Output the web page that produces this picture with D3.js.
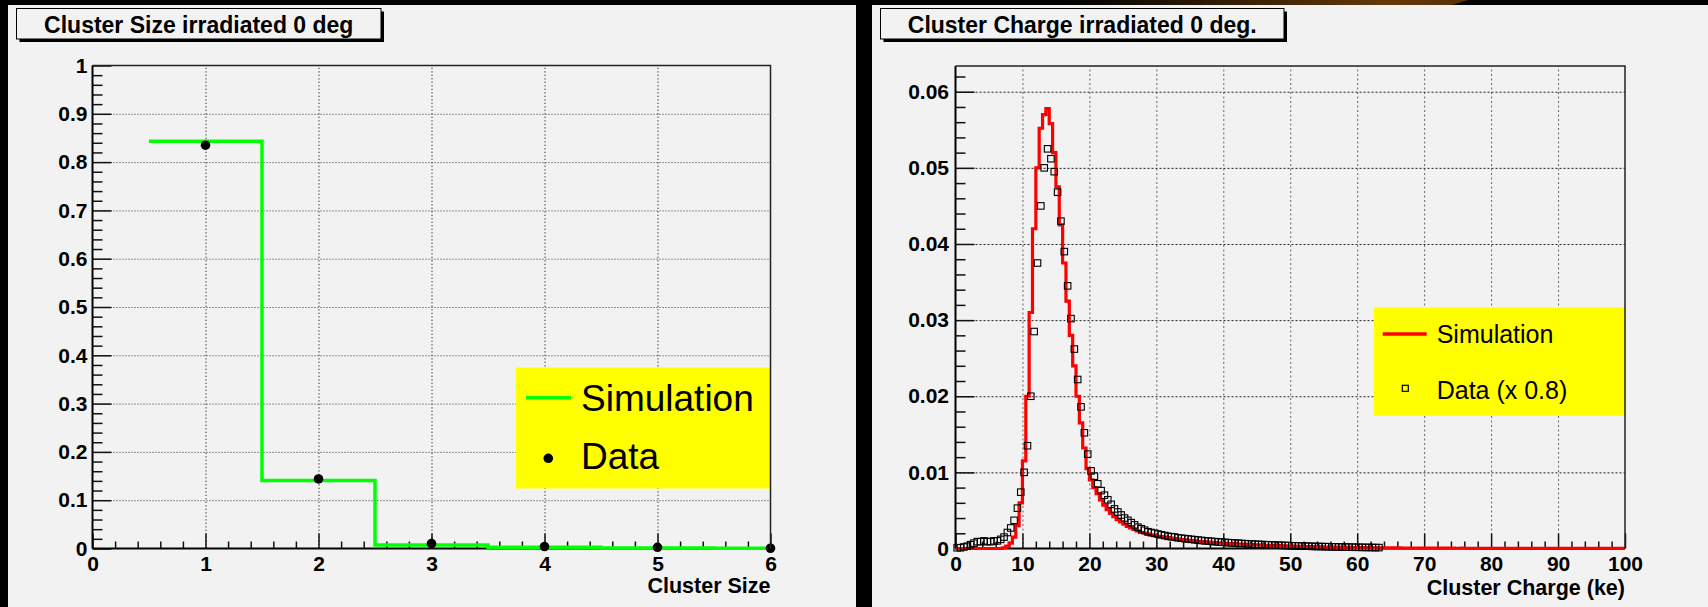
<!DOCTYPE html>
<html>
<head>
<meta charset="utf-8">
<script src="https://cdn.jsdelivr.net/npm/d3@7"></script>
<style>
  html, body { margin: 0; padding: 0; background: #000; }
  svg { display: block; }
  text { font-family: "Liberation Sans", Arial, Helvetica, sans-serif; fill: #000; }
</style>
</head>
<body>
<svg id="chart" width="1708" height="607"></svg>
<script>
// ---------- Cluster size (left pad) ----------
const sizeCategories = [1, 2, 3, 4, 5, 6];
const sizeSim  = [0.843, 0.141, 0.0075, 0.0025, 0.001, 0.0005];   // simulation histogram, one bin per size
const sizeData = [0.835, 0.144, 0.010, 0.004, 0.0025, 0.0005];    // measured fractions
const sizeXTicks = [0, 1, 2, 3, 4, 5, 6];
const sizeYTicks = [0, 0.1, 0.2, 0.3, 0.4, 0.5, 0.6, 0.7, 0.8, 0.9, 1];

// ---------- Cluster charge (right pad), 0.5 ke bins starting at 0 ----------
const chargeBinWidth = 0.5;
const chargeSim = [
  0, 0, 0, 0, 0, 0, 0, 0, 0, 0, 0, 0, 0, 0,
  0.0001, 0.0003, 0.0007, 0.0015, 0.0030, 0.0060,
  0.0115, 0.0200, 0.0310, 0.0420, 0.0500, 0.0552, 0.0570, 0.0578, 0.0558, 0.0520,
  0.0475, 0.0425, 0.0375, 0.0325, 0.0280, 0.0240, 0.0200, 0.0165, 0.0132, 0.0105,
  0.0090, 0.0080, 0.0072, 0.0064, 0.0057, 0.0051, 0.0046, 0.0042, 0.0038, 0.0035,
  0.0032, 0.0029, 0.0027, 0.0025, 0.0023, 0.0021, 0.0020, 0.0019, 0.0018, 0.0017,
  0.0016, 0.00155, 0.0015, 0.00142, 0.00135, 0.0013, 0.00124, 0.00118, 0.00113, 0.00108,
  0.00104, 0.00099, 0.00095, 0.00091, 0.00088, 0.00084, 0.00081, 0.00078, 0.00075, 0.00072,
  0.00069, 0.00066, 0.00064, 0.00061, 0.00059, 0.00057, 0.00055, 0.00053, 0.00051, 0.00049,
  0.00047, 0.00045, 0.00043, 0.00042, 0.0004, 0.00038, 0.00037, 0.00035, 0.00034, 0.00032,
  0.00031, 0.0003, 0.00028, 0.00027, 0.00026, 0.00025, 0.00024, 0.00023, 0.00022, 0.00021,
  0.0002, 0.00019, 0.00018, 0.00017, 0.00016, 0.00016, 0.00015, 0.00014, 0.00013, 0.00013,
  0.00012, 0.00011, 0.00011, 0.0001, 0.0001, 0.00009, 0.00009, 0.00008, 0.00008, 0.00007,
  0.00007, 0.00006, 0.00007, 0.00006, 0.00005, 0.00006, 0.00005, 0.00005, 0.00004, 0.00005,
  0.00004, 0.00005, 0.00004, 0.00004, 0.00003, 0.00004, 0.00004, 0.00003, 0.00004, 0.00003,
  0.00003, 0.00004, 0.00003, 0.00003, 0.00002, 0.00003, 0.00003, 0.00002, 0.00003, 0.00003,
  0.00002, 0.00003, 0.00002, 0.00002, 0.00003, 0.00002, 0.00002, 0.00002, 0.00003, 0.00002,
  0.00002, 0.00002, 0.00001, 0.00002, 0.00002, 0.00002, 0.00001, 0.00002, 0.00002, 0.00001,
  0.00002, 0.00001, 0.00002, 0.00001, 0.00001, 0.00002, 0.00001, 0.00001, 0.00001, 0.00001,
  0.00001, 0.00002, 0.00001, 0.00001, 0.00001, 0.00001, 0.00002, 0.00001, 0.00001, 0.00001
];
const chargeData = [
  0.0001, 0.0001, 0.0002, 0.0003, 0.0005, 0.0007, 0.0009, 0.0009, 0.0010, 0.0009,
  0.0009, 0.0010, 0.0010, 0.0012, 0.0015, 0.0021, 0.0027, 0.0037, 0.0053, 0.0074,
  0.0100, 0.0135, 0.0200, 0.0285, 0.0375, 0.0450, 0.0500, 0.0525, 0.0512, 0.0495,
  0.0468, 0.0430, 0.0390, 0.0345, 0.0302, 0.0262, 0.0222, 0.0186, 0.0152, 0.0124,
  0.0102, 0.0095, 0.0085, 0.0076, 0.0070, 0.0064, 0.0058, 0.0052, 0.0048, 0.0044,
  0.0040, 0.0037, 0.0034, 0.0031, 0.0028, 0.0026, 0.0024, 0.0022, 0.0021, 0.0020,
  0.0019, 0.0018, 0.0017, 0.0016, 0.00155, 0.0015, 0.0014, 0.00135, 0.0013, 0.00125,
  0.0012, 0.00115, 0.0011, 0.00106, 0.0010, 0.00098, 0.00094, 0.0009, 0.00086, 0.00083,
  0.0008, 0.00077, 0.00074, 0.00071, 0.00069, 0.00066, 0.00063, 0.00061, 0.00059, 0.00056,
  0.00054, 0.00052, 0.0005, 0.00048, 0.00046, 0.00044, 0.00043, 0.00041, 0.0004, 0.00038,
  0.00036, 0.00035, 0.00033, 0.00032, 0.00031, 0.0003, 0.00028, 0.00027, 0.00026, 0.00025,
  0.00024, 0.00023, 0.00022, 0.00021, 0.0002, 0.00019, 0.00019, 0.00018, 0.00017, 0.00016,
  0.00016, 0.00015, 0.00014, 0.00014, 0.00013, 0.00012, 0.00012
];
const chargeXTicks = [0, 10, 20, 30, 40, 50, 60, 70, 80, 90, 100];
const chargeYTicks = [0, 0.01, 0.02, 0.03, 0.04, 0.05, 0.06];

const svg = d3.select("#chart");

// ---------- backdrop ----------
svg.append("rect").attr("width", 1708).attr("height", 607).attr("fill", "#000");
const defs = svg.append("defs");
const glow = defs.append("linearGradient").attr("id", "glow").attr("x1", 0).attr("x2", 1);
glow.append("stop").attr("offset", 0).attr("stop-color", "#000");
glow.append("stop").attr("offset", 0.8).attr("stop-color", "#64380a");
glow.append("stop").attr("offset", 1).attr("stop-color", "#5a3006");
svg.append("path").attr("d", "M1060,0H1468L1452,5H1060Z").attr("fill", "url(#glow)");

svg.append("rect").attr("x", 8).attr("y", 5).attr("width", 848).attr("height", 602).attr("fill", "#f2f2f2");
svg.append("rect").attr("x", 872).attr("y", 5).attr("width", 836).attr("height", 602).attr("fill", "#f2f2f2");

// ---------- title boxes ----------
function titleBox(x0, x1, label) {
  svg.append("rect").attr("x", x0 + 3).attr("y", 11.5).attr("width", x1 - x0).attr("height", 30.5).attr("fill", "#000");
  svg.append("rect").attr("x", x0).attr("y", 8.5).attr("width", x1 - x0).attr("height", 30.5)
    .attr("fill", "#f2f2f2").attr("stroke", "#000").attr("stroke-width", 1);
  svg.append("text").attr("x", (x0 + x1) / 2).attr("y", 32.5).attr("text-anchor", "middle")
    .attr("font-size", 23).attr("font-weight", "bold").text(label);
}
titleBox(16.5, 381, "Cluster Size irradiated 0 deg");
titleBox(880.5, 1284, "Cluster Charge irradiated 0 deg.");

// ---------- shared axis frame ----------
function styleText(sel) {
  sel.attr("font-family", "'Liberation Sans', Arial, sans-serif").attr("font-size", 21).attr("font-weight", "bold");
  sel.selectAll("text").attr("fill", "#000");
}

function drawAxes(x, y, o) {
  const [x0, x1] = x.range(), [y0, y1] = y.range();
  const w = x1 - x0, h = y0 - y1;
  const g = svg.append("g");

  // dotted grid at the major ticks
  g.append("g").attr("transform", `translate(0,${y0})`)
    .call(d3.axisBottom(x).tickValues(o.xGrid).tickSize(-h).tickFormat(""))
    .call(a => { a.select(".domain").remove();
      a.selectAll("line").attr("stroke", o.vGridColor).attr("stroke-width", 1).attr("stroke-dasharray", o.vDash); });
  g.append("g").attr("transform", `translate(${x0},0)`)
    .call(d3.axisLeft(y).tickValues(o.yGrid).tickSize(-w).tickFormat(""))
    .call(a => { a.select(".domain").remove();
      a.selectAll("line").attr("stroke", o.hGridColor).attr("stroke-width", 1).attr("stroke-dasharray", o.hDash); });

  // minor ticks
  g.append("g").attr("transform", `translate(0,${y0})`)
    .call(d3.axisBottom(x).tickValues(o.xMinor).tickSize(-7).tickFormat(""))
    .call(a => { a.select(".domain").remove(); a.selectAll("line").attr("stroke", "#111").attr("stroke-width", 1.5); });
  g.append("g").attr("transform", `translate(${x0},0)`)
    .call(d3.axisLeft(y).tickValues(o.yMinor).tickSize(-10).tickFormat(""))
    .call(a => { a.select(".domain").remove(); a.selectAll("line").attr("stroke", "#111").attr("stroke-width", 1.5); });

  // major ticks with labels
  g.append("g").attr("transform", `translate(0,${y0})`)
    .call(d3.axisBottom(x).tickValues(o.xTicks).tickSize(-15).tickPadding(7.5).tickFormat(d => String(d)))
    .call(a => { a.select(".domain").remove(); a.selectAll("line").attr("stroke", "#111").attr("stroke-width", 1.5); styleText(a); });
  g.append("g").attr("transform", `translate(${x0},0)`)
    .call(d3.axisLeft(y).tickValues(o.yTicks).tickSize(-19).tickPadding(o.yPad).tickFormat(d => String(d)))
    .call(a => { a.select(".domain").remove(); a.selectAll("line").attr("stroke", "#111").attr("stroke-width", 1.5); styleText(a); });

  // axis lines
  g.append("line").attr("x1", x0).attr("x2", x1).attr("y1", y0).attr("y2", y0).attr("stroke", "#000").attr("stroke-width", 2.2);
  g.append("line").attr("x1", x0).attr("x2", x0).attr("y1", y0).attr("y2", y1).attr("stroke", "#000").attr("stroke-width", 2);

  // axis title
  svg.append("text").attr("x", x1).attr("y", o.titleY).attr("text-anchor", "end")
    .attr("font-size", 21.5).attr("font-weight", "bold").text(o.title);
}

function drawFrameEdges(x, y) {
  const [x0, x1] = x.range(), [y0, y1] = y.range();
  svg.append("path").attr("d", `M${x0},${y1}H${x1}V${y0}`).attr("fill", "none")
    .attr("stroke", "#222").attr("stroke-width", 1.5);
}

function clipFor(id, x, y) {
  const [x0, x1] = x.range(), [y0, y1] = y.range();
  defs.append("clipPath").attr("id", id).append("rect")
    .attr("x", x0).attr("y", y1 - 4).attr("width", x1 - x0).attr("height", y0 - y1 + 8);
  return `url(#${id})`;
}

// ================= Cluster size =================
const xS = d3.scaleLinear().domain([0, 6]).range([92.5, 770.5]);
const yS = d3.scaleLinear().domain([0, 1]).range([548.5, 65.5]);

drawAxes(xS, yS, {
  xTicks: sizeXTicks, yTicks: sizeYTicks,
  xMinor: d3.range(0, 6.001, 0.2).filter(v => Math.abs(v - Math.round(v)) > 1e-6),
  yMinor: d3.range(0, 1.0001, 0.02).filter(v => Math.abs(v * 10 - Math.round(v * 10)) > 1e-6),
  xGrid: sizeXTicks.slice(1, -1), yGrid: sizeYTicks.slice(1, -1),
  vGridColor: "#333", hGridColor: "#333", vDash: "1.3,2.2", hDash: "1,2",
  yPad: 5, title: "Cluster Size", titleY: 592.7
});

const sizeClip = clipFor("clipSize", xS, yS);
const greenPath = d3.path();
sizeCategories.forEach((c, i) => {
  const yy = yS(sizeSim[i]);
  if (i === 0) greenPath.moveTo(xS(c - 0.5), yy); else greenPath.lineTo(xS(c - 0.5), yy);
  greenPath.lineTo(xS(c + 0.5), yy);
});
svg.append("path").attr("d", greenPath.toString()).attr("clip-path", sizeClip)
  .attr("fill", "none").attr("stroke", "#00ff00").attr("stroke-width", 3.5);

svg.append("g").selectAll("circle").data(sizeCategories).join("circle")
  .attr("cx", d => xS(d)).attr("cy", (d, i) => yS(sizeData[i])).attr("r", 4.8).attr("fill", "#000");

// legend
svg.append("rect").attr("x", 516).attr("y", 367.5).attr("width", 254.5).attr("height", 121).attr("fill", "#ffff00");
svg.append("line").attr("x1", 526).attr("x2", 571).attr("y1", 397.7).attr("y2", 397.7)
  .attr("stroke", "#00ff00").attr("stroke-width", 3.5);
svg.append("text").attr("x", 581).attr("y", 411).attr("font-size", 37).text("Simulation");
svg.append("circle").attr("cx", 548.3).attr("cy", 458.3).attr("r", 4.8).attr("fill", "#000");
svg.append("text").attr("x", 581).attr("y", 469).attr("font-size", 37).text("Data");

drawFrameEdges(xS, yS);

// ================= Cluster charge =================
const xC = d3.scaleLinear().domain([0, 100]).range([955.5, 1625]);
const yC = d3.scaleLinear().domain([0, 0.06338]).range([548.5, 66]);

drawAxes(xC, yC, {
  xTicks: chargeXTicks, yTicks: chargeYTicks,
  xMinor: d3.range(0, 100.001, 2).filter(v => v % 10 !== 0),
  yMinor: d3.range(0, 0.0634, 0.002).filter(v => Math.abs(v * 100 - Math.round(v * 100)) > 1e-6),
  xGrid: chargeXTicks.slice(1, -1), yGrid: chargeYTicks.slice(1),
  vGridColor: "#666", hGridColor: "#222", vDash: "2,2.5", hDash: "2,2",
  yPad: 6.5, title: "Cluster Charge (ke)", titleY: 594.5
});

const chargeClip = clipFor("clipCharge", xC, yC);
const redPath = d3.path();
chargeSim.forEach((v, i) => {
  const xl = xC(i * chargeBinWidth), xr = xC((i + 1) * chargeBinWidth), yy = yC(v);
  if (i === 0) redPath.moveTo(xl, yy); else redPath.lineTo(xl, yy);
  redPath.lineTo(xr, yy);
});
svg.append("path").attr("d", redPath.toString()).attr("clip-path", chargeClip)
  .attr("fill", "none").attr("stroke", "#ff0000").attr("stroke-width", 3.2).attr("stroke-linejoin", "miter");

const sq = 6.5;
svg.append("g").selectAll("rect").data(chargeData).join("rect")
  .attr("x", (d, i) => xC((i + 0.5) * chargeBinWidth) - sq / 2)
  .attr("y", d => yC(d) - sq / 2)
  .attr("width", sq).attr("height", sq)
  .attr("fill", "none").attr("stroke", "#000").attr("stroke-width", 1.1);

// legend
svg.append("rect").attr("x", 1374).attr("y", 307.5).attr("width", 251).attr("height", 108.3).attr("fill", "#ffff00");
svg.append("line").attr("x1", 1382.7).attr("x2", 1426.7).attr("y1", 334).attr("y2", 334)
  .attr("stroke", "#ff0000").attr("stroke-width", 3.5);
svg.append("text").attr("x", 1436.7).attr("y", 343.3).attr("font-size", 25).text("Simulation");
svg.append("rect").attr("x", 1405.3 - 3).attr("y", 388.3 - 3).attr("width", 6).attr("height", 6)
  .attr("fill", "none").attr("stroke", "#000").attr("stroke-width", 1.2);
svg.append("text").attr("x", 1436.7).attr("y", 399.3).attr("font-size", 25).text("Data (x 0.8)");

drawFrameEdges(xC, yC);
</script>
</body>
</html>
